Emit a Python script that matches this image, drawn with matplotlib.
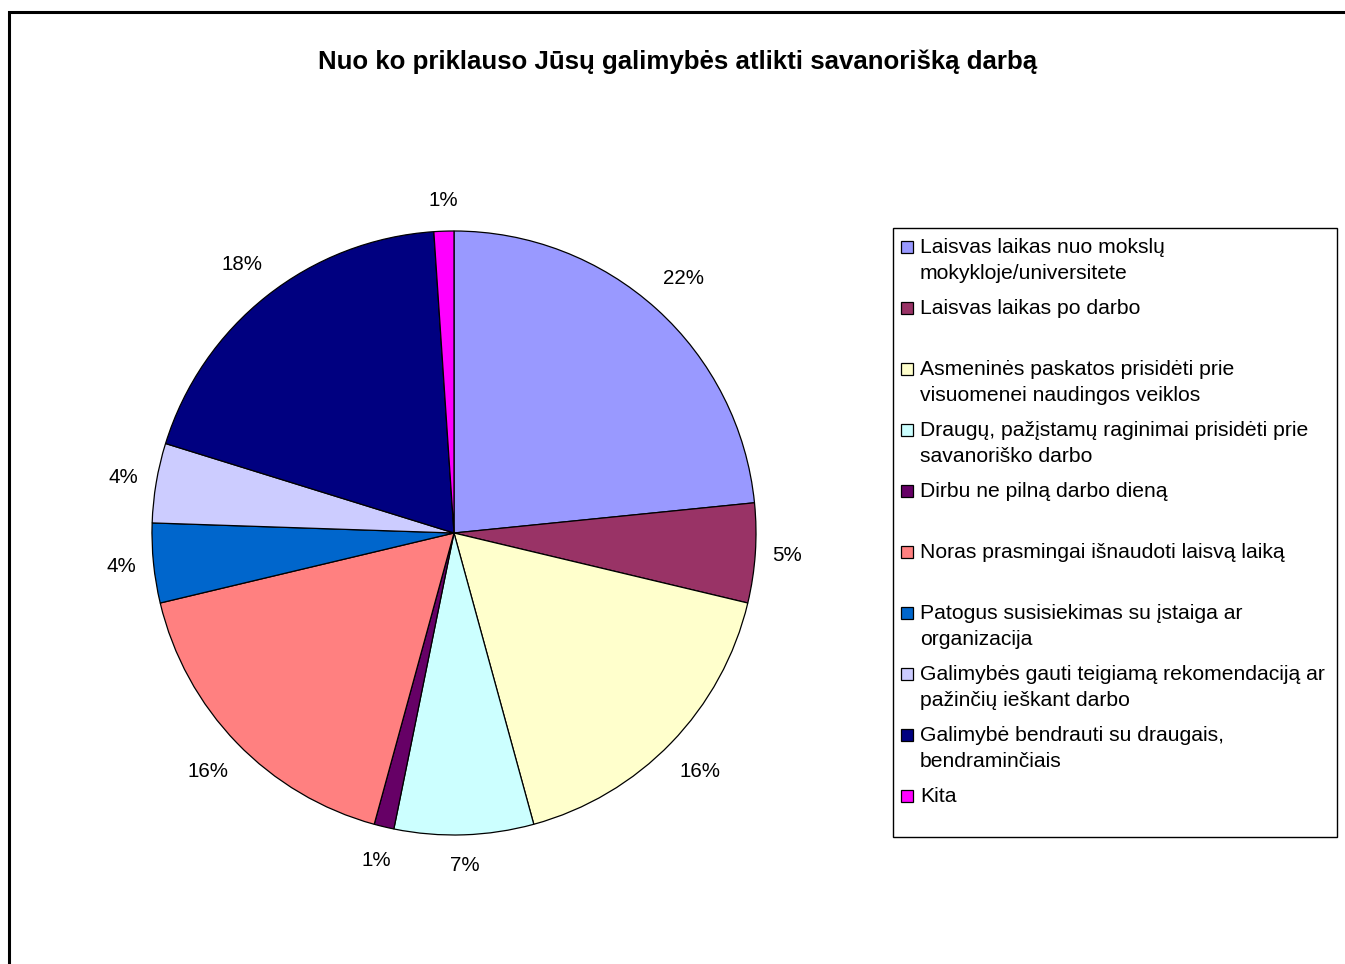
import matplotlib
matplotlib.use("Agg")
import matplotlib.pyplot as plt
from matplotlib.patches import Rectangle
import numpy as np

plt.rcParams['font.family'] = ['Liberation Sans', 'DejaVu Sans']

# Apklausos duomenys
kategorijos = [
    "Laisvas laikas nuo mokslų\nmokykloje/universitete",
    "Laisvas laikas po darbo",
    "Asmeninės paskatos prisidėti prie\nvisuomenei naudingos veiklos",
    "Draugų, pažįstamų raginimai prisidėti prie\nsavanoriško darbo",
    "Dirbu ne pilną darbo dieną",
    "Noras prasmingai išnaudoti laisvą laiką",
    "Patogus susisiekimas su įstaiga ar\norganizacija",
    "Galimybės gauti teigiamą rekomendaciją ar\npažinčių ieškant darbo",
    "Galimybė bendrauti su draugais,\nbendraminčiais",
    "Kita",
]
procentai = [22, 5, 16, 7, 1, 16, 4, 4, 18, 1]
spalvos = ['#9999FF', '#993366', '#FFFFCC', '#CCFFFF', '#660066',
           '#FF8080', '#0066CC', '#CCCCFF', '#000080', '#FF00FF']

W, H = 1345, 964
fig = plt.figure(figsize=(W / 100, H / 100), dpi=100)

# remelis aplink diagrama
fig.add_artist(Rectangle((9 / W, -0.1), 2, (H - 12) / H + 0.1,
                         transform=fig.transFigure, fill=False,
                         edgecolor='black', linewidth=2.2))

fig.text(678 / W, 1 - 69 / H,
         "Nuo ko priklauso Jūsų galimybės atlikti savanorišką darbą",
         ha='center', va='baseline', fontsize=18.6, fontweight='bold')

cx, cy, R = 454, 533, 302
ax = fig.add_axes([(cx - R) / W, (H - cy - R) / H, 2 * R / W, 2 * R / H])
wedges, _ = ax.pie(procentai, colors=spalvos, startangle=90,
                   counterclock=False, radius=1,
                   wedgeprops=dict(edgecolor='black', linewidth=0.9))
ax.set_xlim(-1, 1)
ax.set_ylim(-1, 1)
ax.set_aspect('equal')
ax.axis('off')

# procentu uzrasai uz skritulio ribu, istrizai siek tiek toliau
for w, p in zip(wedges, procentai):
    kampas = np.deg2rad((w.theta1 + w.theta2) / 2)
    r = 1.1 + 0.035 * abs(np.sin(2 * kampas))
    ax.text(r * np.cos(kampas), r * np.sin(kampas), f"{p}%",
            ha='center', va='center', fontsize=14.8)

# legenda
lx0, ly0, lx1, ly1 = 893, 228, 1337, 837
fig.add_artist(Rectangle((lx0 / W, 1 - ly1 / H), (lx1 - lx0) / W,
                         (ly1 - ly0) / H, transform=fig.transFigure,
                         facecolor='white', edgecolor='black', linewidth=1))
for i, (kat, sp) in enumerate(zip(kategorijos, spalvos)):
    y = 253 + 61 * i
    fig.add_artist(Rectangle((901 / W, 1 - y / H), 12 / W, 12 / H,
                             transform=fig.transFigure, facecolor=sp,
                             edgecolor='black', linewidth=0.9))
    for j, eil in enumerate(kat.split("\n")):
        fig.text(920 / W, 1 - (y + 26 * j) / H, eil, ha='left',
                 va='baseline', fontsize=15.2)

fig.savefig("out.png", dpi=100)
